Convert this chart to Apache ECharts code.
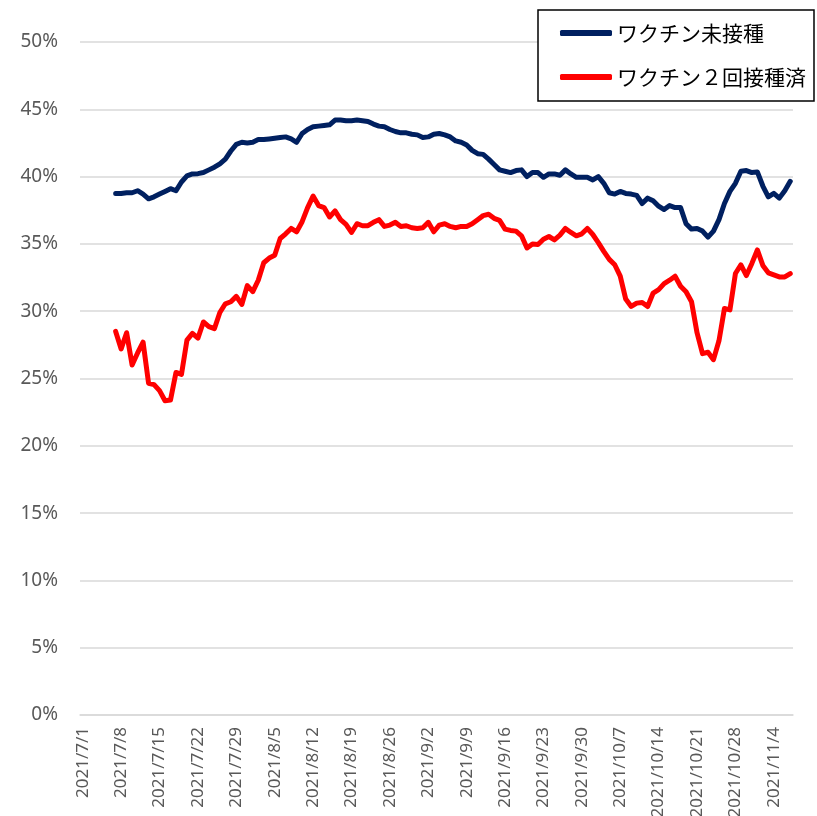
<!DOCTYPE html>
<html>
<head>
<meta charset="utf-8">
<script src="https://cdn.jsdelivr.net/npm/echarts@6/dist/echarts.min.js"></script>
<style>
  html, body { margin: 0; padding: 0; background: #fff; }
  #chart { width: 817px; height: 816px; }
</style>
</head>
<body>
<div id="chart"></div>
<script>
// Daily share (%) from 2021/7/1 to 2021/11/7; the first six days have no data.
const startDate = [2021, 7, 1];
const dayCount = 130;

const seriesNames = ['ワクチン未接種', 'ワクチン２回接種済'];

const unvaccinated = [
  null, null, null, null, null, null,
  38.75, 38.75, 38.8, 38.8, 38.95, 38.7, 38.35, 38.5, 38.7, 38.9,
  39.1, 38.95, 39.6, 40.05, 40.2, 40.22, 40.3, 40.5, 40.7, 40.95,
  41.3, 41.9, 42.4, 42.55, 42.5, 42.55, 42.75, 42.75, 42.8, 42.85,
  42.9, 42.95, 42.8, 42.55, 43.2, 43.5, 43.7, 43.75, 43.8, 43.85,
  44.2, 44.2, 44.15, 44.15, 44.2, 44.15, 44.1, 43.9, 43.75, 43.7,
  43.5, 43.35, 43.25, 43.25, 43.15, 43.1, 42.9, 42.95, 43.15, 43.2,
  43.1, 42.95, 42.65, 42.55, 42.35, 41.95, 41.7, 41.65, 41.3, 40.9,
  40.5, 40.4, 40.3, 40.45, 40.5, 40.0, 40.3, 40.3, 39.95, 40.2,
  40.2, 40.1, 40.5, 40.2, 39.95, 39.95, 39.95, 39.75, 40.0, 39.5,
  38.8, 38.7, 38.9, 38.75, 38.7, 38.6, 38.0, 38.4, 38.2, 37.8,
  37.55, 37.85, 37.7, 37.7, 36.5, 36.1, 36.15, 35.95, 35.5, 35.95,
  36.8, 38.0, 38.9, 39.5, 40.4, 40.45, 40.3, 40.35, 39.3, 38.5,
  38.75, 38.4, 38.95, 39.65
];

const fullyVaccinated = [
  null, null, null, null, null, null,
  28.5, 27.2, 28.4, 26.0, 26.9, 27.7, 24.65, 24.55, 24.1, 23.35,
  23.4, 25.45, 25.3, 27.85, 28.35, 28.0, 29.2, 28.85, 28.7, 29.9,
  30.55, 30.7, 31.1, 30.5, 31.9, 31.45, 32.3, 33.6, 33.95, 34.15,
  35.4, 35.75, 36.15, 35.9, 36.65, 37.7, 38.55, 37.85, 37.7, 37.0,
  37.45, 36.8, 36.45, 35.85, 36.5, 36.35, 36.35, 36.6, 36.8, 36.3,
  36.4, 36.6, 36.3, 36.35, 36.2, 36.15, 36.2, 36.6, 35.9, 36.4,
  36.5, 36.3, 36.2, 36.3, 36.3, 36.5, 36.8, 37.1, 37.2, 36.9,
  36.75, 36.1, 36.0, 35.95, 35.6, 34.7, 35.0, 34.95, 35.35, 35.55,
  35.3, 35.65, 36.15, 35.85, 35.6, 35.75, 36.15, 35.7, 35.1, 34.45,
  33.85, 33.45, 32.6, 30.9, 30.35, 30.6, 30.65, 30.35, 31.35, 31.6,
  32.05, 32.3, 32.6, 31.85, 31.45, 30.7, 28.4, 26.85, 26.95, 26.4,
  27.8, 30.2, 30.1, 32.8, 33.45, 32.65, 33.55, 34.55, 33.4, 32.85,
  32.7, 32.55, 32.55, 32.8
];

const yTicks = { min: 0, max: 50, interval: 5 };

// Category labels: one per day, written as yyyy/m/d
const categories = [];
{
  const d = new Date(startDate[0], startDate[1] - 1, startDate[2]);
  for (let i = 0; i < dayCount; i++) {
    categories.push(d.getFullYear() + '/' + (d.getMonth() + 1) + '/' + d.getDate());
    d.setDate(d.getDate() + 1);
  }
}

const chart = echarts.init(document.getElementById('chart'), null, { renderer: 'canvas' });

const lineSeries = (name, data, color) => ({
  name: name,
  type: 'line',
  data: data,
  showSymbol: false,
  symbol: 'none',
  connectNulls: false,
  smooth: false,
  animation: false,
  lineStyle: { color: color, width: 5, cap: 'round', join: 'round' },
  itemStyle: { color: color }
});

chart.setOption({
  backgroundColor: '#ffffff',
  animation: false,
  grid: {
    left: 80, right: 24, top: 42, bottom: 101,
    containLabel: false,
    outerBoundsMode: 'none'
  },
  legend: {
    data: seriesNames,
    orient: 'vertical',
    left: 538,
    top: 10,
    padding: [12, 8, 13, 22],
    itemGap: 22,
    itemWidth: 52,
    itemHeight: 6,
    icon: 'roundRect',
    backgroundColor: '#ffffff',
    borderColor: '#000000',
    borderWidth: 1.5,
    borderRadius: 0,
    textStyle: {
      fontFamily: '"Noto Sans CJK JP", sans-serif',
      fontSize: 21,
      lineHeight: 22,
      color: '#000000'
    }
  },
  xAxis: {
    type: 'category',
    data: categories,
    boundaryGap: true,
    axisLine: { show: true, lineStyle: { color: '#d9d9d9', width: 1.5 } },
    axisTick: { show: false },
    axisLabel: {
      interval: 6,
      rotate: 90,
      margin: 12,
      color: '#595959',
      fontFamily: '"Noto Sans", sans-serif',
      fontSize: 17
    },
    splitLine: { show: false }
  },
  yAxis: {
    type: 'value',
    min: yTicks.min,
    max: yTicks.max,
    interval: yTicks.interval,
    axisLine: { show: false },
    axisTick: { show: false },
    axisLabel: {
      formatter: '{value}%',
      margin: 22,
      color: '#595959',
      fontFamily: '"Noto Sans", sans-serif',
      fontSize: 19
    },
    splitLine: { show: true, lineStyle: { color: '#d9d9d9', width: 1.5 } }
  },
  series: [
    lineSeries(seriesNames[0], unvaccinated, '#002060'),
    lineSeries(seriesNames[1], fullyVaccinated, '#ff0000')
  ]
});
</script>
</body>
</html>
